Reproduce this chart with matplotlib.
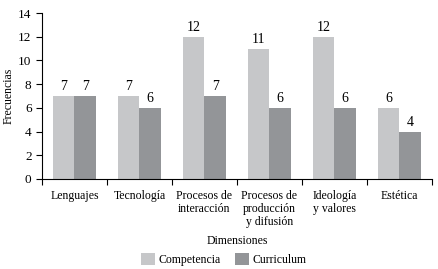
import numpy as np
import matplotlib.pyplot as plt

categories = ["Lenguajes", "Tecnología", "Procesos de\ninteracción",
              "Procesos de\nproducción\ny difusión", "Ideología\ny valores", "Estética"]
competencia = [7, 7, 12, 11, 12, 6]
curriculum = [7, 6, 7, 6, 6, 4]

plt.rcParams['font.family'] = 'serif'
plt.rcParams['font.serif'] = ['Liberation Serif', 'DejaVu Serif']
plt.rcParams['font.size'] = 8.5

fig = plt.figure(figsize=(4.39, 2.69), dpi=100)
ax = fig.add_axes([0.0957, 0.3346, 0.888, 0.617])

x = np.arange(len(categories))
w = 0.33
b1 = ax.bar(x - w / 2, competencia, w, color="#c6c7c9", label="Competencia")
b2 = ax.bar(x + w / 2, curriculum, w, color="#939598", label="Curriculum")
for bars, vals in [(b1, competencia), (b2, curriculum)]:
    for r, v in zip(bars, vals):
        ax.text(r.get_x() + r.get_width() / 2, v + 0.25, str(v),
                ha="center", va="bottom", fontsize=10)

ax.set_xlim(-0.5, len(categories) - 0.5)
ax.set_ylim(0, 14)
ax.set_yticks(range(0, 15, 2))
ax.set_xticks(np.arange(len(categories) + 1) - 0.5)
ax.set_xticklabels([])
ax.set_xticks(x, categories, minor=True)
for lbl in ax.get_xticklabels(minor=True):
    lbl.set_linespacing(1.1)
ax.tick_params(axis="x", which="minor", length=0, pad=8)
ax.tick_params(axis="x", which="major", length=4, width=0.8, direction="out")
ax.tick_params(axis="y", length=4, width=0.8, direction="out", labelsize=9.5)
ax.spines["top"].set_visible(False)
ax.spines["right"].set_visible(False)
ax.set_ylabel("Frecuencias", va="center")
ax.yaxis.set_label_coords(-0.085, 0.5)
ax.set_xlabel("Dimensiones", va="center")
ax.xaxis.set_label_coords(0.5, -0.373)
fig.legend(handles=[b1, b2], loc="center", bbox_to_anchor=(0.51, 0.035), ncol=2,
           frameon=False, handlelength=1.2, handleheight=1.2, columnspacing=1.2,
           handletextpad=0.3, borderpad=0)

fig.savefig("out.png", dpi=100)
